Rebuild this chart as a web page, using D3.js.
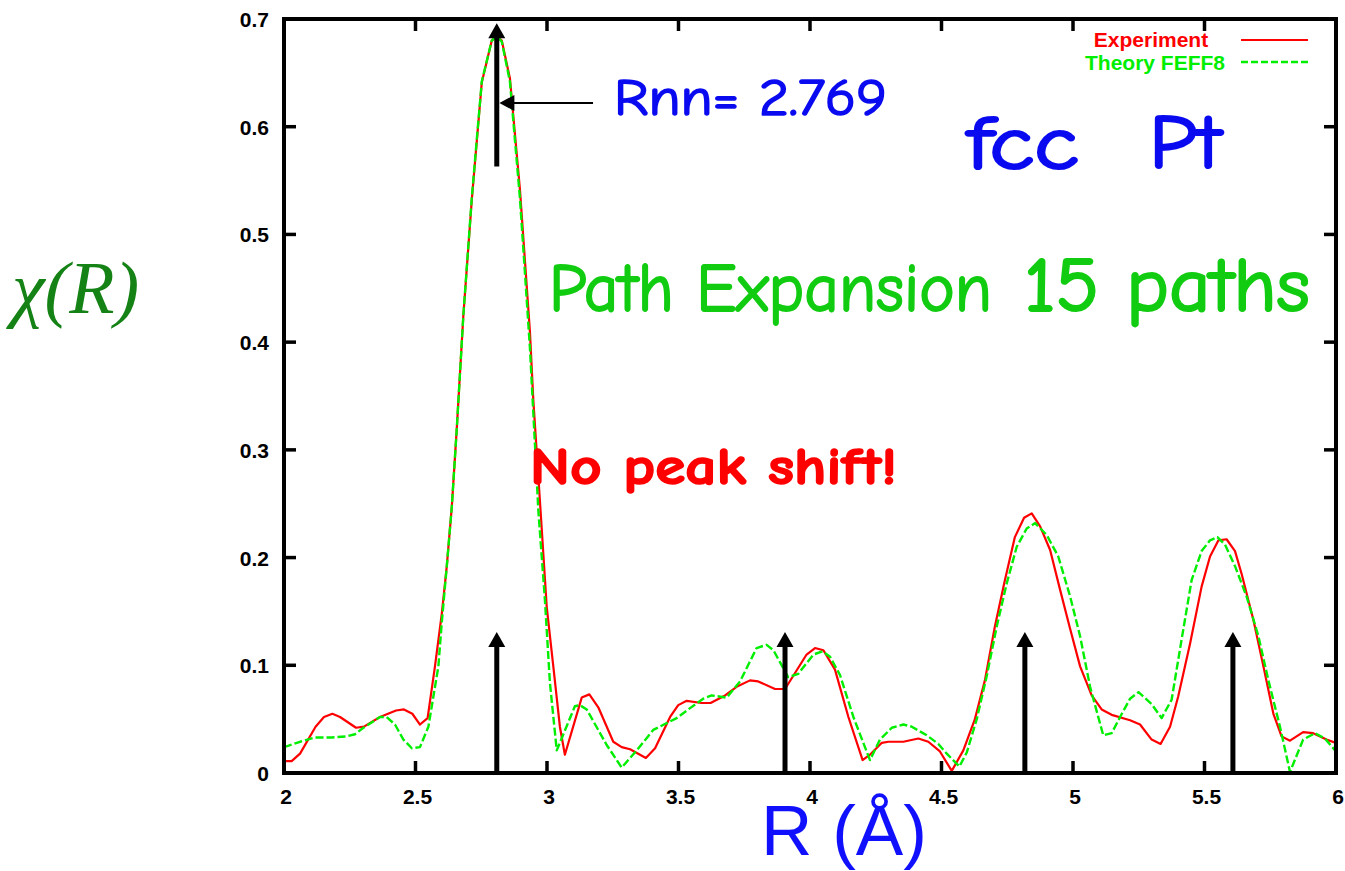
<!DOCTYPE html>
<html>
<head>
<meta charset="utf-8">
<script src="https://cdn.jsdelivr.net/npm/d3@7/dist/d3.min.js"></script>
<style>
  html, body { margin: 0; padding: 0; background: #fff; }
  svg { display: block; }
</style>
</head>
<body>
<svg id="chart" width="1345" height="871"></svg>
<script>
// Fourier-transform magnitude |chi(R)| for fcc Pt: experiment vs FEFF8 path expansion
const expR = [2.000,2.029,2.061,2.120,2.152,2.184,2.213,2.274,2.304,2.365,2.426,2.456,2.488,2.517,2.546,2.574,2.600,2.619,2.638,2.657,2.682,2.714,2.752,2.790,2.809,2.828,2.859,2.897,2.935,2.948,2.973,2.999,3.024,3.049,3.068,3.132,3.161,3.195,3.252,3.284,3.316,3.376,3.411,3.468,3.499,3.531,3.588,3.622,3.677,3.721,3.772,3.803,3.867,3.905,3.987,4.019,4.051,4.095,4.146,4.200,4.228,4.273,4.298,4.355,4.412,4.450,4.494,4.539,4.583,4.627,4.665,4.703,4.741,4.779,4.814,4.843,4.875,4.913,4.951,4.989,5.027,5.071,5.109,5.147,5.217,5.255,5.299,5.333,5.369,5.400,5.445,5.489,5.521,5.553,5.584,5.616,5.641,5.686,5.724,5.762,5.793,5.825,5.875,5.913,5.964,6.000];
const expChi = [0.011,0.011,0.018,0.043,0.052,0.055,0.052,0.042,0.043,0.052,0.058,0.059,0.055,0.045,0.051,0.099,0.148,0.192,0.247,0.320,0.425,0.532,0.641,0.680,0.684,0.680,0.645,0.542,0.410,0.346,0.253,0.154,0.099,0.043,0.017,0.070,0.073,0.061,0.029,0.024,0.022,0.014,0.023,0.052,0.063,0.067,0.065,0.065,0.072,0.080,0.086,0.085,0.078,0.078,0.110,0.116,0.114,0.096,0.052,0.012,0.017,0.028,0.029,0.029,0.032,0.029,0.020,0.002,0.021,0.050,0.086,0.136,0.179,0.219,0.237,0.241,0.229,0.207,0.170,0.134,0.099,0.072,0.059,0.054,0.049,0.045,0.031,0.027,0.043,0.071,0.120,0.173,0.201,0.216,0.217,0.206,0.185,0.142,0.099,0.055,0.034,0.030,0.038,0.037,0.031,0.028];

const theoR = [2.000,2.061,2.118,2.181,2.238,2.270,2.302,2.365,2.390,2.422,2.454,2.486,2.517,2.549,2.568,2.587,2.600,2.619,2.638,2.657,2.682,2.714,2.752,2.790,2.809,2.828,2.859,2.897,2.935,2.954,2.967,2.992,3.011,3.037,3.106,3.125,3.151,3.227,3.284,3.341,3.404,3.493,3.537,3.594,3.626,3.683,3.734,3.797,3.835,3.861,3.917,3.955,4.013,4.048,4.076,4.114,4.165,4.228,4.266,4.311,4.355,4.387,4.444,4.488,4.520,4.568,4.596,4.634,4.672,4.710,4.748,4.786,4.824,4.856,4.900,4.944,4.989,5.027,5.065,5.115,5.147,5.179,5.217,5.249,5.299,5.337,5.375,5.413,5.451,5.489,5.521,5.549,5.578,5.616,5.660,5.705,5.743,5.787,5.825,5.875,5.920,5.958,6.000];
const theoChi = [0.024,0.029,0.033,0.033,0.034,0.036,0.042,0.052,0.052,0.045,0.031,0.023,0.024,0.043,0.071,0.099,0.140,0.192,0.247,0.320,0.425,0.534,0.642,0.680,0.684,0.679,0.642,0.534,0.395,0.306,0.244,0.161,0.084,0.021,0.062,0.063,0.059,0.026,0.005,0.021,0.040,0.051,0.059,0.069,0.072,0.070,0.085,0.116,0.119,0.114,0.089,0.092,0.110,0.113,0.108,0.091,0.052,0.012,0.031,0.042,0.045,0.043,0.035,0.027,0.018,0.006,0.019,0.050,0.090,0.136,0.176,0.210,0.227,0.232,0.221,0.201,0.164,0.127,0.080,0.035,0.037,0.052,0.069,0.075,0.064,0.051,0.068,0.124,0.179,0.206,0.216,0.219,0.212,0.192,0.164,0.127,0.086,0.043,0.001,0.031,0.037,0.032,0.020];

// scattering path distances marked with arrows
const pathR = [2.809, 3.905, 4.817, 5.608];
const pathArrowChi = [0.131, 0.131, 0.131, 0.131];
// first-shell marker arrow and its pointer
const shellArrow = { r: 2.809, from: 0.563, to: 0.696 };
const pointer = { chi: 0.622, fromR: 3.175, toR: 2.819 };

const xTicks = [2, 2.5, 3, 3.5, 4, 4.5, 5, 5.5, 6];
const xTickLabels = ["2", "2.5", "3", "3.5", "4", "4.5", "5", "5.5", "6"];
const yTicks = [0, 0.1, 0.2, 0.3, 0.4, 0.5, 0.6, 0.7];
const yTickLabels = ["0", "0.1", "0.2", "0.3", "0.4", "0.5", "0.6", "0.7"];

const seriesNames = ["Experiment", "Theory FEFF8"];

const svg = d3.select("#chart");
const pLeft = 284, pRight = 1336, pTop = 19, pBottom = 773;
const x = d3.scaleLinear().domain([2, 6]).range([pLeft, pRight]);
const y = d3.scaleLinear().domain([0, 0.7]).range([pBottom, pTop]);

const RED = "#ff0000", GREEN = "#00ee00";
const tickFont = "'Liberation Sans', Arial, Helvetica, sans-serif";
const handFont = "'Comic Sans MS', 'Comic Neue', Lato, 'Open Sans', sans-serif";

svg.append("defs").append("clipPath").attr("id", "plotclip")
  .append("rect").attr("x", pLeft).attr("y", pTop).attr("width", pRight - pLeft).attr("height", pBottom - pTop);

// curves
const line = d3.line().x(d => x(d[0])).y(d => y(d[1]));
const expData = expR.map((r, i) => [r, expChi[i]]);
const theoData = theoR.map((r, i) => [r, theoChi[i]]);
const curves = svg.append("g").attr("clip-path", "url(#plotclip)");
curves.append("path").datum(expData).attr("d", line)
  .attr("fill", "none").attr("stroke", RED).attr("stroke-width", 2.2).attr("stroke-linejoin", "round");
curves.append("path").datum(theoData).attr("d", line)
  .attr("fill", "none").attr("stroke", GREEN).attr("stroke-width", 2.4)
  .attr("stroke-dasharray", "8,3").attr("stroke-linejoin", "round");

// arrows
function upArrow(g, r, c0, c1, w) {
  const px = x(r), yTip = y(c1), headH = 15, headW = 17;
  g.append("line").attr("x1", px).attr("x2", px).attr("y1", y(c0)).attr("y2", yTip + headH - 1)
    .attr("stroke", "#000").attr("stroke-width", w);
  g.append("path").attr("d", `M${px},${yTip} L${px - headW / 2},${yTip + headH} L${px + headW / 2},${yTip + headH} Z`)
    .attr("fill", "#000");
}
const arrows = svg.append("g");
pathR.forEach((r, i) => upArrow(arrows, r, 0, pathArrowChi[i], 5));
upArrow(arrows, shellArrow.r, shellArrow.from, shellArrow.to, 5);
{
  const py = y(pointer.chi), xt = x(pointer.toR), hl = 15, hw = 16;
  arrows.append("line").attr("x1", x(pointer.fromR)).attr("x2", xt + hl - 1).attr("y1", py).attr("y2", py)
    .attr("stroke", "#000").attr("stroke-width", 2);
  arrows.append("path").attr("d", `M${xt},${py} L${xt + hl},${py - hw / 2} L${xt + hl},${py + hw / 2} Z`).attr("fill", "#000");
}

// frame and ticks
const axes = svg.append("g");
axes.append("rect").attr("x", pLeft).attr("y", pTop).attr("width", pRight - pLeft).attr("height", pBottom - pTop)
  .attr("fill", "none").attr("stroke", "#000").attr("stroke-width", 4);
const tl = 12;
xTicks.forEach(v => {
  axes.append("line").attr("x1", x(v)).attr("x2", x(v)).attr("y1", pBottom).attr("y2", pBottom - tl).attr("stroke", "#000").attr("stroke-width", 3.5);
  axes.append("line").attr("x1", x(v)).attr("x2", x(v)).attr("y1", pTop).attr("y2", pTop + tl).attr("stroke", "#000").attr("stroke-width", 3.5);
});
yTicks.forEach(v => {
  axes.append("line").attr("x1", pLeft).attr("x2", pLeft + tl).attr("y1", y(v)).attr("y2", y(v)).attr("stroke", "#000").attr("stroke-width", 3.5);
  axes.append("line").attr("x1", pRight).attr("x2", pRight - tl).attr("y1", y(v)).attr("y2", y(v)).attr("stroke", "#000").attr("stroke-width", 3.5);
});
axes.selectAll("text.xt").data(xTicks).enter().append("text")
  .attr("x", d => x(d) + 2).attr("y", 804).attr("text-anchor", "middle")
  .attr("font-family", tickFont).attr("font-weight", "bold").attr("font-size", 21)
  .text((d, i) => xTickLabels[i]);
axes.selectAll("text.yt").data(yTicks).enter().append("text")
  .attr("x", 269).attr("y", d => y(d) + 8).attr("text-anchor", "end")
  .attr("font-family", tickFont).attr("font-weight", "bold").attr("font-size", 21)
  .text((d, i) => yTickLabels[i]);

// legend
const legend = svg.append("g");
legend.append("text").attr("x", 1151).attr("y", 47).attr("text-anchor", "middle")
  .attr("font-family", tickFont).attr("font-weight", "bold").attr("font-size", 21).attr("fill", RED)
  .text(seriesNames[0]);
legend.append("text").attr("x", 1155).attr("y", 70).attr("text-anchor", "middle")
  .attr("font-family", tickFont).attr("font-weight", "bold").attr("font-size", 21).attr("fill", GREEN)
  .text(seriesNames[1]);
legend.append("line").attr("x1", 1241).attr("x2", 1308).attr("y1", 40).attr("y2", 40)
  .attr("stroke", RED).attr("stroke-width", 2.2);
legend.append("line").attr("x1", 1241).attr("x2", 1308).attr("y1", 62).attr("y2", 62)
  .attr("stroke", GREEN).attr("stroke-width", 2.4).attr("stroke-dasharray", "7,3");

// annotations (hand-lettered look: filled glyphs with a same-colour outline)
function note(txt, xx, yy, size, color, len, weight, sw) {
  svg.append("text").attr("x", xx).attr("y", yy)
    .attr("font-family", handFont).attr("font-size", size).attr("font-weight", weight || "normal")
    .attr("fill", color).attr("stroke", color).attr("stroke-width", sw).attr("stroke-linejoin", "round")
    .attr("textLength", len).attr("lengthAdjust", "spacingAndGlyphs")
    .text(txt);
}
const BLUE = "#0a0af0", LGREEN = "#11cc11";
note("Rnn= 2.769", 614, 115, 52, BLUE, 273, "normal", 1.6);
note("fcc", 967, 169, 76, BLUE, 112, "normal", 2.2);
note("Pt", 1149, 168, 76, BLUE, 72, "normal", 2.2);
note("Path Expansion", 549, 311, 68, LGREEN, 443, "normal", 1.8);
note("15 paths", 1024, 311, 76, LGREEN, 286, "normal", 2.2);
note("No peak shift!", 530, 484, 52, RED, 367, "bold", 1.6);

// axis titles
svg.append("text").attr("x", 12).attr("y", 313)
  .attr("font-family", "'Liberation Serif', 'Times New Roman', serif").attr("font-style", "italic")
  .attr("font-size", 74).attr("fill", "#148214").text("χ(R)");
svg.append("text").attr("x", 761).attr("y", 855)
  .attr("font-family", tickFont).attr("font-size", 70).attr("fill", "#1010ff")
  .attr("textLength", 166).attr("lengthAdjust", "spacingAndGlyphs").text("R (Å)");
</script>
</body>
</html>
